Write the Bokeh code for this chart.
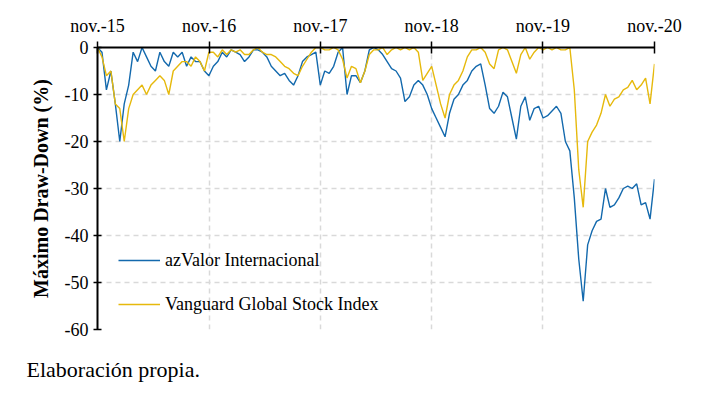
import pandas as pd
from bokeh.plotting import figure
from bokeh.models import Range1d, FixedTicker, Legend, LegendItem, Title
from bokeh.embed import file_html
from bokeh.resources import INLINE

# ---- data ----
start_date = "2015-11-01"
end_date = "2020-11-01"
n_points = 126

azvalor = [
    0, -1, -9, -5, -12, -20, -12, -8, -1, -3,
    0, -2, -4, -5, -1, -3, -4, -1, -2, -1,
    -4, -2, -3, -3, -5, -6, -4, -3, -1, -2,
    -0.5, -1, -1.5, -3, -2, -0.5, -0.5, -1, -2, -4,
    -5, -6, -5.5, -7, -8, -6, -3, -2, -1.5, -1,
    -8, -5, -5.5, -4, -1, 0, -10, -6, -6, -7.5,
    -5, -0.5, 0, -0.5, -1.5, -3, -4.5, -5, -6.5, -11.5,
    -10.5, -8, -7, -8, -10, -13, -15, -17, -19, -14,
    -11, -10, -8, -7, -5, -4, -3.5, -8, -13, -14,
    -12.5, -9.5, -10.5, -15, -19.5, -12.5, -10.5, -15.5, -13, -12.5,
    -15, -14.5, -13.5, -12.5, -14, -20, -22, -32, -45, -54,
    -42, -39, -37, -36.5, -30, -34, -33.5, -32, -30, -29.5,
    -30, -29, -33.5, -33, -36.5, -28,
]

vanguard = [
    0, -2, -6, -5, -12, -13, -20, -13, -10, -9,
    -8, -10, -8, -7, -6, -7, -10, -5, -4, -3,
    -3, -4, -2, -3, -5, -1, -1, -2, -0.5, -1.5,
    -0.5, -1, -0.5, -1.5, -1.5, -0.5, 0, -1, -1.5, -1.5,
    -2, -3, -4, -4.5, -5.5, -6, -4, -2.5, -1, 0,
    0, -0.5, -0.5, 0, -0.5, -2.5, -6.5, -4, -4.5, -7.5,
    -5, -1.5, -0.5, -0.5, 0, -1.5, -0.5, 0, -0.5, 0,
    -0.5, 0, -1, -7, -5.5, -4, -8, -12, -15, -10,
    -8, -7, -5, -2, -0.5, -0.5, 0, -1, -3.5, -4.5,
    -0.5, 0, -0.5, -3, -5.5, -1.5, 0, -2.5, -1, 0,
    -0.5, 0, -0.5, 0, -0.5, -0.5, 0, -9, -26, -34,
    -20, -18, -16.5, -14, -10, -12.5, -11, -10.5, -9, -8.5,
    -7, -9, -8, -6.5, -12, -3.5,
]

series_names = ["azValor Internacional", "Vanguard Global Stock Index"]
tick_dates = ["2015-11-01", "2016-11-01", "2017-11-01",
              "2018-11-01", "2019-11-01", "2020-11-01"]
tick_labels = ["nov.-15", "nov.-16", "nov.-17", "nov.-18", "nov.-19", "nov.-20"]
y_ticks = [0, -10, -20, -30, -40, -50, -60]
y_tick_labels = ["0", "-10", "-20", "-30", "-40", "-50", "-60"]
y_title = "Máximo Draw-Down (%)"
caption_text = "Elaboración propia."

# ---- build ----
dates = pd.date_range(start_date, end_date, periods=n_points)
tick_ms = [int(pd.Timestamp(d).value // 10**6) for d in tick_dates]

FONT = "Liberation Serif"
BLUE = "#1369ad"
GOLD = "#e6b90c"
GRID = "#d9d9d9"

p = figure(
    frame_width=557, frame_height=282,
    min_border_left=97, min_border_right=54,
    min_border_top=47, min_border_bottom=70,
    x_axis_type="datetime", x_axis_location="above",
    x_range=Range1d(tick_ms[0], tick_ms[-1]),
    y_range=Range1d(-60, 0),
    output_backend="svg", toolbar_location=None,
    background_fill_color="white", border_fill_color="white",
)
p.outline_line_color = None

r1 = p.line(dates, azvalor, line_color=BLUE, line_width=1.4)
r2 = p.line(dates, vanguard, line_color=GOLD, line_width=1.4)

xa = p.xaxis[0]
xa.ticker = FixedTicker(ticks=tick_ms)
xa.major_label_overrides = {ms: lab for ms, lab in zip(tick_ms, tick_labels)}
ya = p.yaxis[0]
ya.ticker = FixedTicker(ticks=y_ticks)
ya.major_label_overrides = {v: lab for v, lab in zip(y_ticks, y_tick_labels)}
ya.axis_label = y_title

for ax in (xa, ya):
    ax.axis_line_color = "black"
    ax.axis_line_width = 2
    ax.major_tick_line_color = "black"
    ax.major_tick_line_width = 1.5
    ax.minor_tick_line_color = None
    ax.major_label_text_font = FONT
    ax.major_label_text_font_size = "18px"
    ax.major_label_text_color = "black"

xa.major_tick_in = 6
xa.major_tick_out = 6
xa.major_label_standoff = 6
ya.major_tick_in = 4
ya.major_tick_out = 4
ya.major_label_standoff = 5
ya.axis_label_text_font = FONT
ya.axis_label_text_font_size = "20px"
ya.axis_label_text_font_style = "bold"
ya.axis_label_text_color = "black"
ya.axis_label_standoff = 10

for g in (p.xgrid[0], p.ygrid[0]):
    g.grid_line_color = GRID
    g.grid_line_dash = "5 4"
    g.grid_line_width = 1.5

legend = Legend(
    items=[LegendItem(label=series_names[0], renderers=[r1]),
           LegendItem(label=series_names[1], renderers=[r2])],
    location=(21, 14), orientation="vertical",
    background_fill_alpha=0, border_line_color=None,
    padding=0, margin=0, spacing=22,
    glyph_width=42, glyph_height=22, label_height=22, label_standoff=5,
    label_text_font=FONT, label_text_font_size="18px", label_text_color="black",
)
p.add_layout(legend, "center")

caption = Title(text=caption_text, align="left", offset=-71, standoff=51,
                text_font=FONT, text_font_size="22px", text_font_style="normal",
                text_color="black")
p.add_layout(caption, "below")

open("out.html", "w").write(file_html(p, INLINE))
